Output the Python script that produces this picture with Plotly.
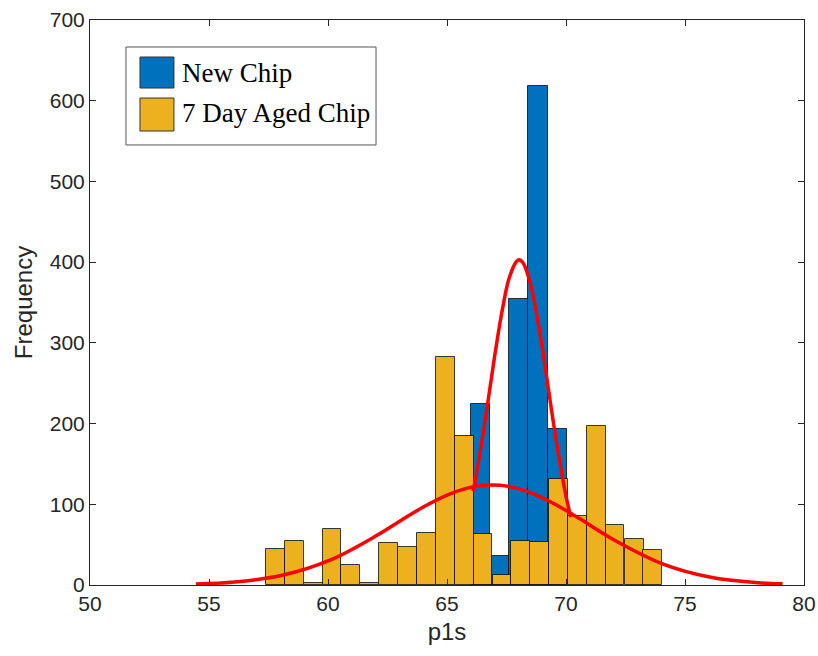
import plotly.graph_objects as go

# ---- data ----
new_chip_centers = [66.40, 67.21, 68.02, 68.83, 69.65]
new_chip_counts = [224, 36, 354, 618, 193]

aged_chip_centers = [57.79, 58.58, 59.38, 60.17, 60.96, 61.76, 62.55, 63.34, 64.13,
                     64.93, 65.72, 66.51, 67.31, 68.10, 68.89, 69.69, 70.48, 71.27,
                     72.06, 72.86, 73.65]
aged_chip_counts = [45, 55, 3, 69, 25, 3, 52, 47, 64, 283, 184, 63, 12, 55, 53,
                    131, 85, 197, 74, 57, 43]

# fitted curves
new_fit_x = [66.1, 66.4, 66.7, 67.0, 67.3, 67.6, 67.9, 68.03, 68.2, 68.5, 68.8,
             69.1, 69.4, 69.7, 70.0, 70.2]
new_fit_y = [116, 166, 223, 283, 337, 379, 400, 403, 399, 374, 330, 275, 215,
             159, 110, 84]

aged_fit_x = [54.45, 56.08, 58.08, 60.08, 62.08, 63.08, 64.08, 65.08, 66.08, 66.88,
              67.58, 68.58, 69.58, 70.58, 72.08, 74.08, 76.08, 78.08, 79.1]
aged_fit_y = [1.2, 3.7, 12.0, 30.7, 61.9, 80.2, 97.9, 112.4, 121.6, 124, 122.2,
              113.6, 99.5, 82.0, 54.8, 25.9, 9.6, 2.8, 1.4]

x_ticks = [50, 55, 60, 65, 70, 75, 80]
y_ticks = [0, 100, 200, 300, 400, 500, 600, 700]

series_names = ["New Chip", "7 Day Aged Chip"]
blue = "#0072BD"
yellow = "#EDB120"
axis_col = "#262626"

fig = go.Figure()
fig.add_trace(go.Bar(x=new_chip_centers, y=new_chip_counts, width=0.812,
                     name=series_names[0], marker=dict(color=blue,
                     line=dict(color="rgba(0,0,0,0.75)", width=1)),
                     showlegend=False))
fig.add_trace(go.Bar(x=aged_chip_centers, y=aged_chip_counts, width=0.793,
                     name=series_names[1], marker=dict(color=yellow,
                     line=dict(color="rgba(0,0,0,0.75)", width=1)),
                     showlegend=False))
fig.add_trace(go.Scatter(x=new_fit_x, y=new_fit_y, mode="lines",
                         line=dict(color="#FF0000", width=3.5, shape="spline"),
                         showlegend=False, hoverinfo="skip"))
fig.add_trace(go.Scatter(x=aged_fit_x, y=aged_fit_y, mode="lines",
                         line=dict(color="#FF0000", width=3.5, shape="spline"),
                         showlegend=False, hoverinfo="skip"))

# manual legend (large swatches as in the reference)
shapes = [
    dict(type="rect", xref="paper", yref="paper", x0=0.0504, x1=0.4006,
         y0=0.7788, y1=0.9522, line=dict(color="#555555", width=1),
         fillcolor="white", layer="above"),
    dict(type="rect", xref="paper", yref="paper", x0=0.070, x1=0.1176,
         y0=0.8796, y1=0.9345, line=dict(color="#333333", width=1),
         fillcolor=blue, layer="above"),
    dict(type="rect", xref="paper", yref="paper", x0=0.070, x1=0.1176,
         y0=0.8035, y1=0.8619, line=dict(color="#333333", width=1),
         fillcolor=yellow, layer="above"),
]
annotations = [
    dict(xref="paper", yref="paper", x=0.1261, y=0.9062, text=series_names[0],
         showarrow=False, xanchor="left", yanchor="middle",
         font=dict(family="Liberation Serif", size=27, color="black")),
    dict(xref="paper", yref="paper", x=0.1261, y=0.8354, text=series_names[1],
         showarrow=False, xanchor="left", yanchor="middle",
         font=dict(family="Liberation Serif", size=27, color="black")),
]

fig.update_layout(
    width=818, height=656,
    margin=dict(l=90, r=14, t=20, b=71),
    paper_bgcolor="white", plot_bgcolor="white",
    barmode="overlay", bargap=0,
    font=dict(family="Liberation Sans", color=axis_col),
    shapes=shapes, annotations=annotations,
    xaxis=dict(range=[50, 80], tickvals=x_ticks, ticks="inside", ticklen=6,
               tickcolor=axis_col, showline=True, linecolor=axis_col,
               linewidth=1, mirror="ticks", showgrid=False, zeroline=False,
               automargin=False,
               tickfont=dict(size=21, color=axis_col),
               title=dict(text="p1s", font=dict(size=24, color=axis_col),
                          standoff=8)),
    yaxis=dict(range=[0, 700], tickvals=y_ticks, ticks="inside", ticklen=6,
               tickcolor=axis_col, showline=True, linecolor=axis_col,
               linewidth=1, mirror="ticks", showgrid=False, zeroline=False,
               automargin=False,
               tickfont=dict(size=21, color=axis_col),
               title=dict(text="Frequency", font=dict(size=24, color=axis_col),
                          standoff=10)),
)

fig.write_html("out.html")
